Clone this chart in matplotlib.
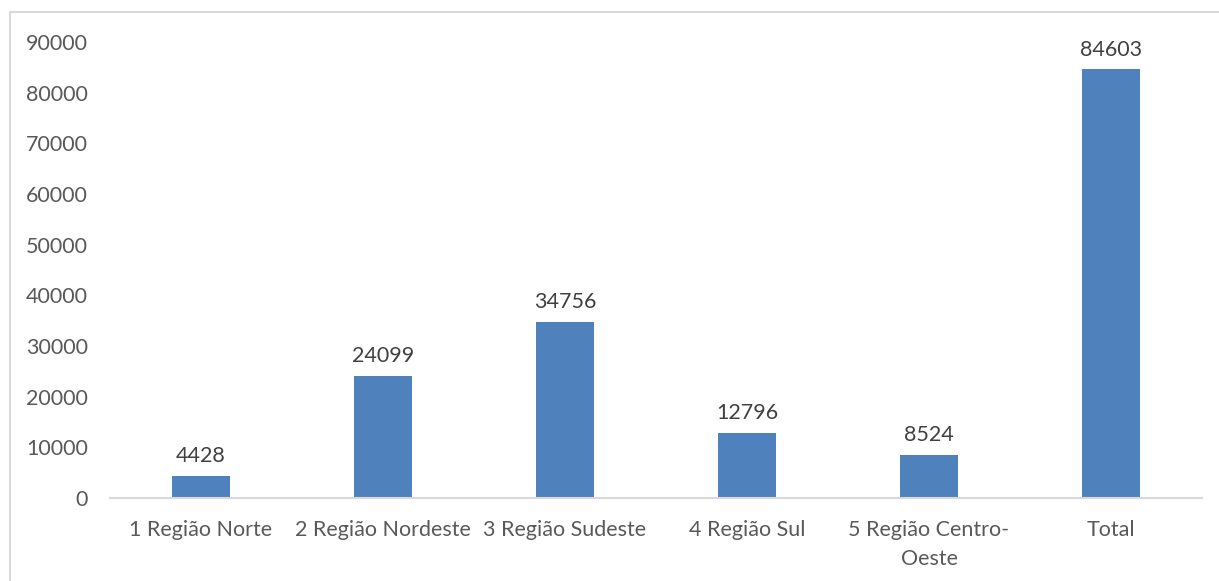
import matplotlib.pyplot as plt
from matplotlib.patches import Rectangle

plt.rcParams['font.family'] = ['Lato', 'DejaVu Sans']

categories = ['1 Região Norte', '2 Região Nordeste', '3 Região Sudeste',
              '4 Região Sul', '5 Região Centro-\nOeste', 'Total']
values = [4428, 24099, 34756, 12796, 8524, 84603]
y_ticks = [0, 10000, 20000, 30000, 40000, 50000, 60000, 70000, 80000, 90000]

bar_color = '#4F81BD'
text_color = '#595959'
line_color = '#D9D9D9'

fig = plt.figure(figsize=(12.19, 5.81), dpi=100)
ax = fig.add_axes([110 / 1219, 1 - 498 / 581, 1092 / 1219, (498 - 42) / 581])

# light frame around the chart like the Excel chart area
fig.patches.append(Rectangle((10 / 1219, -0.01), 1.02, 1 - 12 / 581 + 0.01,
                             transform=fig.transFigure, fill=False,
                             edgecolor=line_color, linewidth=1.5))

x = range(len(categories))
bars = ax.bar(x, values, width=0.32, color=bar_color)

for b, v in zip(bars, values):
    ax.annotate(str(v), (b.get_x() + b.get_width() / 2, v),
                xytext=(0, 7), textcoords='offset points',
                ha='center', va='bottom', fontsize=15.5, color='#404040')

ax.set_xlim(-0.5, len(categories) - 0.5)
ax.set_ylim(0, 90000)
ax.set_yticks(y_ticks)
ax.set_yticklabels([str(t) for t in y_ticks])
ax.set_xticks(list(x))
ax.set_xticklabels(categories, linespacing=1.55)

ax.tick_params(axis='both', length=0, labelsize=15.5, labelcolor=text_color)
ax.tick_params(axis='y', pad=16)
ax.tick_params(axis='x', pad=16)
for s in ['left', 'right', 'top']:
    ax.spines[s].set_visible(False)
ax.spines['bottom'].set_color(line_color)
ax.spines['bottom'].set_linewidth(1.5)

fig.savefig('out.png', dpi=100)
